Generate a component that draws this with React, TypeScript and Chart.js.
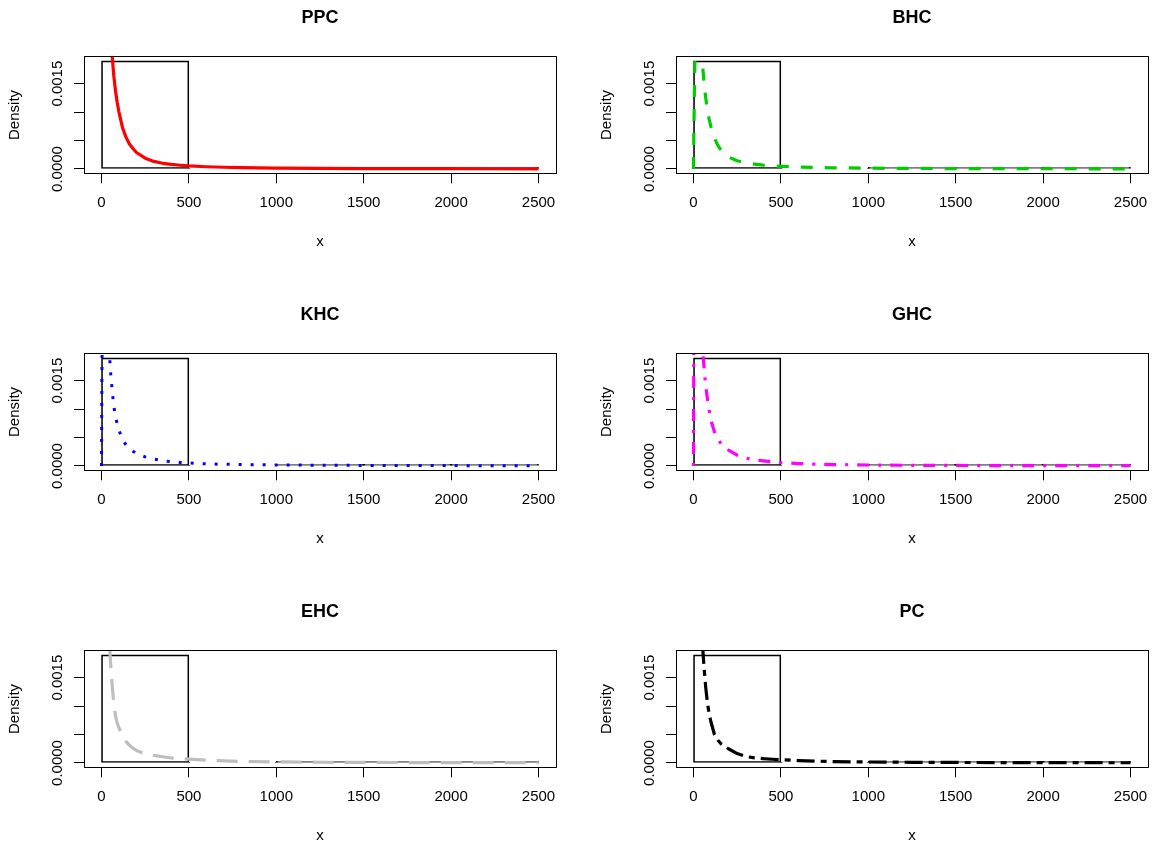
import React, { useEffect, useRef } from 'react';
import { Chart, registerables } from 'chart.js';

Chart.register(...registerables);

const FONT = '"Liberation Sans", Arial, Helvetica, sans-serif';
Chart.defaults.font.family = FONT;
Chart.defaults.color = '#000';

// ---- data ----
const xGrid = [0, 2, 5, 10, 20, 30, 40, 50, 60, 70, 80, 90, 100, 120, 140, 160, 180, 200, 250, 300, 350, 400, 450, 500, 600, 700, 800, 1000, 1250, 1500, 1750, 2000, 2250, 2500];

const densityPPC = [null, null, null, null, null, null, 0.0043, 0.0028, 0.00203, 0.00165, 0.00138, 0.00117, 0.001, 0.00073, 0.00056, 0.00044, 0.00036, 0.00029, 0.00019, 0.000133, 0.0001, 0.00008, 0.000065, 0.000053, 0.000039, 0.00003, 0.000024, 0.000016, 0.000011, 0.0000078, 0.000006, 0.0000048, 0.000004, 0.0000033];
const densityBHC = [0, 0.0006, 0.0013, 0.0022, 0.0032, 0.003, 0.0024, 0.0019, 0.00153, 0.00125, 0.00103, 0.00087, 0.00074, 0.00054, 0.00041, 0.00032, 0.00026, 0.00021, 0.000145, 0.000105, 0.000085, 0.000068, 0.000055, 0.000046, 0.000034, 0.000026, 0.000021, 0.000014, 0.0000095, 0.000007, 0.0000054, 0.0000043, 0.0000035, 0.0000029];
const densityKHC = [0, 0.0013, 0.0028, 0.0045, 0.0045, 0.0034, 0.0024, 0.00172, 0.00137, 0.00106, 0.00087, 0.00074, 0.00063, 0.00047, 0.00037, 0.00031, 0.00026, 0.00022, 0.00016, 0.00012, 0.000093, 0.000075, 0.000062, 0.000052, 0.000037, 0.00003, 0.000025, 0.000018, 0.000013, 0.00001, 0.000008, 0.0000065, 0.0000055, 0.0000046];
const densityGHC = [0, 0.0025, 0.005, 0.006, 0.0052, 0.0038, 0.0028, 0.0021, 0.00175, 0.0014, 0.00118, 0.00098, 0.0008, 0.0006, 0.00047, 0.00038, 0.00032, 0.00028, 0.00019, 0.000138, 0.000108, 0.00009, 0.000075, 0.00006, 0.000043, 0.000032, 0.000025, 0.000017, 0.000012, 0.000009, 0.000007, 0.0000057, 0.0000047, 0.000004];
const densityEHC = [null, null, null, null, null, null, 0.0026, 0.00185, 0.0014, 0.00106, 0.00083, 0.0007, 0.00062, 0.00049, 0.00038, 0.00031, 0.00026, 0.00022, 0.00016, 0.000133, 0.00011, 0.000088, 0.000078, 0.000068, 0.000048, 0.000036, 0.000028, 0.000019, 0.000013, 0.0000098, 0.0000077, 0.0000062, 0.0000051, 0.0000043];
const densityPC = [null, null, null, null, null, null, 0.0029, 0.00215, 0.0017, 0.00133, 0.00105, 0.00086, 0.00072, 0.0005, 0.0004, 0.00033, 0.00029, 0.00025, 0.000165, 0.000113, 0.00009, 0.000076, 0.000066, 0.000058, 0.000042, 0.000032, 0.000025, 0.000017, 0.000012, 0.000009, 0.000007, 0.0000057, 0.0000047, 0.000004];

const histMids = [250, 750, 1250, 1750, 2250];
const histDensity = [0.0019, 0.00001, 0.00003, 0.00003, 0.00003];

const xTickValues = [0, 500, 1000, 1500, 2000, 2500];
const xTickLabels = ['0', '500', '1000', '1500', '2000', '2500'];
const yTickValues = [0, 0.0005, 0.001, 0.0015];
const yTickLabels = ['0.0000', '', '', '0.0015'];

const panelTitles = ['PPC', 'BHC', 'KHC', 'GHC', 'EHC', 'PC'];
const panelDensities = [densityPPC, densityBHC, densityKHC, densityGHC, densityEHC, densityPC];

const X_MIN = -100;
const X_MAX = 2600;
const Y_MIN = -0.000076;
const Y_MAX = 0.001976;

// ---- styles ----
const lineStyles = [
  { color: '#FF0000', dash: [] as number[], width: 3.2 },
  { color: '#00CD00', dash: [12, 12], width: 3.2 },
  { color: '#0000FF', dash: [3, 9], width: 3 },
  { color: '#FF00FF', dash: [3, 9, 12, 9], width: 3.2 },
  { color: '#BEBEBE', dash: [21, 11], width: 3.2 },
  { color: '#000000', dash: [6, 6, 18, 6], width: 3.2 },
];

const CANVAS_W = 562;
const CANVAS_H = 254;
const COL_LEFT = [0, 592];
const ROW_TOP = [0, 297, 594];

const boxPlugin = {
  id: 'plotBox',
  afterDatasetsDraw(chart: any) {
    const { ctx, chartArea } = chart;
    const a = (p: number) => Math.round(p - 0.5) + 0.5;
    ctx.save();
    ctx.strokeStyle = '#000';
    ctx.lineWidth = 1;
    ctx.setLineDash([]);
    const l = a(chartArea.left), t = a(chartArea.top), r = a(chartArea.right), b = a(chartArea.bottom);
    ctx.strokeRect(l, t, r - l, b - t);
    ctx.restore();
  },
};

function Panel({ idx }: { idx: number }) {
  const ref = useRef<HTMLCanvasElement>(null);
  useEffect(() => {
    const st = lineStyles[idx];
    const dens = panelDensities[idx];
    const chart = new Chart(ref.current as HTMLCanvasElement, {
      type: 'line',
      data: {
        datasets: [
          {
            type: 'line',
            data: xGrid.map((x, i) => ({ x, y: dens[i] })) as any,
            borderColor: st.color,
            borderWidth: st.width,
            borderDash: st.dash,
            borderCapStyle: 'butt',
            borderJoinStyle: 'round',
            pointRadius: 0,
            tension: 0,
            fill: false,
            spanGaps: false,
            clip: 0,
            order: 0,
          } as any,
          {
            type: 'bar',
            data: histMids.map((x, i) => ({ x, y: histDensity[i] })) as any,
            backgroundColor: 'rgba(0,0,0,0)',
            borderColor: '#000',
            borderWidth: 1,
            borderSkipped: false,
            barPercentage: 1,
            categoryPercentage: 1,
            clip: 0,
            order: 1,
          } as any,
        ],
      },
      options: {
        animation: false,
        responsive: false,
        devicePixelRatio: 1,
        layout: { padding: { left: 0, right: 6, top: 0, bottom: 0 } },
        plugins: {
          legend: { display: false },
          tooltip: { enabled: false },
          title: {
            display: true,
            text: panelTitles[idx],
            fullSize: false,
            color: '#000',
            font: { family: FONT, size: 18, weight: 'bold', lineHeight: 1.2 },
            padding: { top: 7, bottom: 28 },
          },
        },
        scales: {
          x: {
            type: 'linear',
            min: X_MIN,
            max: X_MAX,
            offset: false,
            grid: { display: true, drawOnChartArea: false, drawTicks: true, tickLength: 10, color: '#000', lineWidth: 1, offset: false },
            border: { display: true, color: '#000', width: 1 },
            ticks: {
              autoSkip: false,
              minRotation: 0,
              maxRotation: 0,
              padding: 11,
              color: '#000',
              font: { family: FONT, size: 15 },
              callback: (_v: any, i: number) => xTickLabels[i],
            },
            title: { display: true, text: 'x', color: '#000', font: { family: FONT, size: 15 }, padding: { top: 0, bottom: 3 } },
            afterBuildTicks: (s: any) => {
              s.ticks = xTickValues.map((v) => ({ value: v }));
            },
            afterFit: (s: any) => {
              s.height = 80.7;
              s.paddingLeft = 0;
              s.paddingRight = 0;
            },
          } as any,
          y: {
            type: 'linear',
            min: Y_MIN,
            max: Y_MAX,
            grid: { display: true, drawOnChartArea: false, drawTicks: true, tickLength: 10, color: '#000', lineWidth: 1 },
            border: { display: true, color: '#000', width: 1 },
            ticks: {
              autoSkip: false,
              minRotation: 90,
              maxRotation: 90,
              crossAlign: 'center',
              padding: -6.5,
              color: '#000',
              font: { family: FONT, size: 15 },
              callback: (_v: any, i: number) => yTickLabels[i],
            },
            title: { display: true, text: 'Density', color: '#000', font: { family: FONT, size: 15 }, padding: { top: 6, bottom: 0 } },
            afterBuildTicks: (s: any) => {
              s.ticks = yTickValues.map((v) => ({ value: v }));
            },
            afterFit: (s: any) => {
              s.width = 84;
              s.paddingTop = 0;
              s.paddingBottom = 0;
            },
          } as any,
        },
      },
      plugins: [boxPlugin],
    });
    return () => chart.destroy();
  }, [idx]);
  const col = idx % 2;
  const row = Math.floor(idx / 2);
  return (
    <canvas
      ref={ref}
      width={CANVAS_W}
      height={CANVAS_H}
      style={{ position: 'absolute', left: COL_LEFT[col], top: ROW_TOP[row], width: CANVAS_W, height: CANVAS_H }}
    />
  );
}

export default function App() {
  return (
    <div style={{ position: 'absolute', left: 0, top: 0, width: 1154, height: 848, overflow: 'hidden', background: '#fff' }}>
      {panelTitles.map((_t, i) => (
        <Panel key={i} idx={i} />
      ))}
    </div>
  );
}
